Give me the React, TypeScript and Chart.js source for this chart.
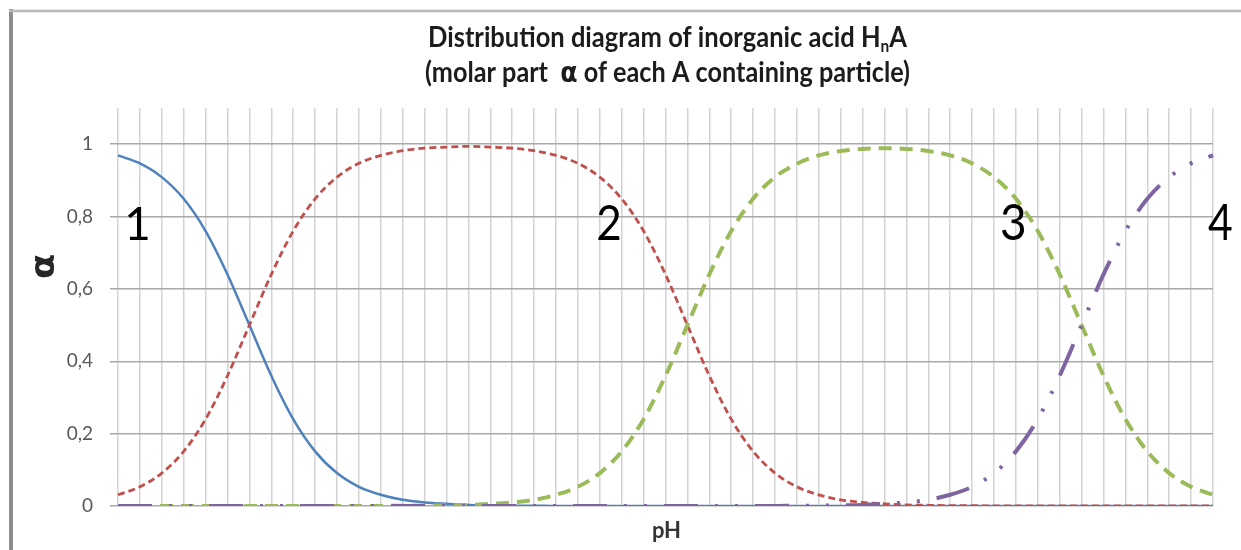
import React, { useEffect, useRef } from "react";
import { Chart, registerables } from "chart.js";

Chart.register(...registerables);

// pH categories (0.25 step), no tick labels shown on the reference
const pHLabels = [
  "0", "0.25", "0.5", "0.75", "1", "1.25", "1.5", "1.75", "2", "2.25",
  "2.5", "2.75", "3", "3.25", "3.5", "3.75", "4", "4.25", "4.5", "4.75",
  "5", "5.25", "5.5", "5.75", "6", "6.25", "6.5", "6.75", "7", "7.25",
  "7.5", "7.75", "8", "8.25", "8.5", "8.75", "9", "9.25", "9.5", "9.75",
  "10", "10.25", "10.5", "10.75", "11", "11.25", "11.5", "11.75", "12", "12.25",
  "12.5",
];

// molar part α of each species
const series1 = [
  0.969, 0.947, 0.909, 0.849, 0.76, 0.64, 0.5, 0.36, 0.24, 0.151,
  0.091, 0.053, 0.031, 0.017, 0.01, 0.006, 0.003, 0.002, 0.001, 0.001,
  0, 0, 0, 0, 0, 0, 0, 0, 0, 0,
  0, 0, 0, 0, 0, 0, 0, 0, 0, 0,
  0, 0, 0, 0, 0, 0, 0, 0, 0, 0,
  0,
];
const series2 = [
  0.031, 0.053, 0.091, 0.151, 0.24, 0.36, 0.5, 0.64, 0.76, 0.849,
  0.909, 0.947, 0.969, 0.982, 0.989, 0.992, 0.994, 0.992, 0.989, 0.982,
  0.969, 0.947, 0.909, 0.849, 0.76, 0.64, 0.5, 0.36, 0.24, 0.151,
  0.091, 0.053, 0.031, 0.017, 0.01, 0.006, 0.003, 0.002, 0.001, 0.001,
  0, 0, 0, 0, 0, 0, 0, 0, 0, 0,
  0,
];
const series3 = [
  0, 0, 0, 0, 0, 0, 0, 0, 0, 0,
  0, 0, 0, 0.001, 0.001, 0.002, 0.003, 0.006, 0.01, 0.017,
  0.031, 0.053, 0.091, 0.151, 0.24, 0.36, 0.5, 0.64, 0.76, 0.849,
  0.909, 0.946, 0.969, 0.981, 0.987, 0.989, 0.987, 0.981, 0.969, 0.947,
  0.909, 0.849, 0.76, 0.64, 0.5, 0.36, 0.24, 0.151, 0.091, 0.053,
  0.031,
];
const series4 = [
  0, 0, 0, 0, 0, 0, 0, 0, 0, 0,
  0, 0, 0, 0, 0, 0, 0, 0, 0, 0,
  0, 0, 0, 0, 0, 0, 0, 0, 0, 0,
  0, 0.001, 0.001, 0.002, 0.003, 0.006, 0.01, 0.017, 0.031, 0.053,
  0.091, 0.151, 0.24, 0.36, 0.5, 0.64, 0.76, 0.849, 0.909, 0.947,
  0.969,
];

const yTickValues = [0, 0.2, 0.4, 0.6, 0.8, 1];

function drawFit(
  ctx: CanvasRenderingContext2D,
  text: string,
  font: string,
  cx: number,
  cy: number,
  w: number,
  h: number,
  rot = 0
) {
  ctx.save();
  ctx.font = font;
  ctx.textAlign = "left";
  ctx.textBaseline = "alphabetic";
  const m = ctx.measureText(text);
  const gw = m.actualBoundingBoxLeft + m.actualBoundingBoxRight;
  const gh = m.actualBoundingBoxAscent + m.actualBoundingBoxDescent;
  ctx.translate(cx, cy);
  if (rot) ctx.rotate(rot);
  ctx.scale(w / gw, h / gh);
  ctx.fillText(text, -gw / 2 + m.actualBoundingBoxLeft, -gh / 2 + m.actualBoundingBoxAscent);
  ctx.restore();
}

type Piece = { t: string; f: string; dy?: number };

function drawLine(
  ctx: CanvasRenderingContext2D,
  pieces: Piece[],
  x0: number,
  x1: number,
  baseline: number
) {
  ctx.save();
  ctx.textAlign = "left";
  ctx.textBaseline = "alphabetic";
  let total = 0;
  const widths = pieces.map((p) => {
    ctx.font = p.f;
    const wd = ctx.measureText(p.t).width;
    total += wd;
    return wd;
  });
  ctx.translate(x0, baseline);
  ctx.scale((x1 - x0) / total, 1);
  let x = 0;
  pieces.forEach((p, i) => {
    ctx.font = p.f;
    ctx.fillText(p.t, x, p.dy || 0);
    x += widths[i];
  });
  ctx.restore();
}

const overlayPlugin = {
  id: "overlay",
  afterDraw(chart: any) {
    const ctx: CanvasRenderingContext2D = chart.ctx;
    ctx.save();
    // frame lines
    ctx.strokeStyle = "#8e8e8e";
    ctx.lineWidth = 4;
    ctx.beginPath();
    ctx.moveTo(11, 9);
    ctx.lineTo(11, 550);
    ctx.stroke();
    ctx.strokeStyle = "#b8b8b8";
    ctx.lineWidth = 2.5;
    ctx.beginPath();
    ctx.moveTo(9, 11);
    ctx.lineTo(1241, 11);
    ctx.stroke();

    // title
    ctx.fillStyle = "#1c1c1c";
    const tf = "bold 28px Lato";
    drawLine(
      ctx,
      [
        { t: "Distribution diagram of inorganic acid H", f: tf },
        { t: "n", f: "bold 17px Lato", dy: 5 },
        { t: "A", f: tf },
      ],
      428,
      907,
      47
    );
    drawLine(
      ctx,
      [
        { t: "(molar part  ", f: tf },
        { t: "α", f: "bold 28px 'DejaVu Sans'" },
        { t: " of each A containing particle)", f: tf },
      ],
      425,
      910,
      82
    );

    // big curve numbers
    ctx.fillStyle = "#000000";
    const df = "48px Lato";
    drawFit(ctx, "1", df, 137.5, 223, 21, 34);
    drawFit(ctx, "2", df, 609, 222.5, 22, 35);
    drawFit(ctx, "3", df, 1013.5, 222, 23, 36);
    drawFit(ctx, "4", df, 1220, 222, 24, 36);

    // axis titles
    ctx.fillStyle = "#262626";
    drawFit(ctx, "α", "bold 40px 'DejaVu Sans'", 45, 266.5, 23, 20, -Math.PI / 2);
    ctx.fillStyle = "#333333";
    ctx.font = "bold 22px Lato";
    ctx.textAlign = "center";
    ctx.textBaseline = "alphabetic";
    ctx.fillText("pH", 666.5, 538);
    ctx.restore();
  },
};

export default function App() {
  const ref = useRef<HTMLCanvasElement>(null);

  useEffect(() => {
    if (!ref.current) return;
    const chart = new Chart(ref.current, {
      type: "line",
      data: {
        labels: pHLabels,
        datasets: [
          {
            label: "1",
            data: series1,
            borderColor: "#4f81bd",
            borderWidth: 2.5,
            pointRadius: 0,
            fill: false,
            cubicInterpolationMode: "monotone",
            order: 4,
          },
          {
            label: "2",
            data: series2,
            borderColor: "#c0504d",
            borderWidth: 2.8,
            borderDash: [7, 4],
            pointRadius: 0,
            fill: false,
            cubicInterpolationMode: "monotone",
            order: 3,
          },
          {
            label: "3",
            data: series3,
            borderColor: "#9bbb59",
            borderWidth: 4,
            borderDash: [13, 8],
            pointRadius: 0,
            fill: false,
            cubicInterpolationMode: "monotone",
            order: 2,
          },
          {
            label: "4",
            data: series4,
            borderColor: "#7f64a2",
            borderWidth: 4,
            borderDash: [34, 17, 3, 17, 3, 17],
            pointRadius: 0,
            fill: false,
            cubicInterpolationMode: "monotone",
            order: 1,
          },
        ],
      },
      options: {
        responsive: false,
        devicePixelRatio: 1,
        animation: false,
        events: [],
        layout: { padding: { top: 108, right: 28, bottom: 44, left: 0 } },
        plugins: {
          legend: { display: false },
          tooltip: { enabled: false },
          title: { display: false },
        },
        scales: {
          x: {
            type: "category",
            offset: false,
            grid: { color: "#d3d3d3", lineWidth: 1.5, drawTicks: false },
            border: { display: false },
            ticks: { display: false },
            afterFit: (s: any) => {
              s.height = 0;
            },
          },
          y: {
            min: 0,
            max: 1.1,
            afterBuildTicks: (s: any) => {
              s.ticks = yTickValues.map((v) => ({ value: v }));
            },
            ticks: {
              padding: 17,
              color: "#595959",
              font: { family: "Lato", size: 19 },
              callback: (v: any) => {
                const n = Math.round(Number(v) * 10) / 10;
                return n === 0 || n === 1 ? String(n) : n.toFixed(1).replace(".", ",");
              },
            },
            grid: { color: "#a9a9a9", lineWidth: 1.5, tickLength: 8 },
            border: { display: false },
            afterFit: (s: any) => {
              s.width = 118;
            },
          },
        },
      } as any,
      plugins: [overlayPlugin],
    });
    return () => chart.destroy();
  }, []);

  return (
    <div style={{ position: "fixed", left: 0, top: 0, width: 1241, height: 550, background: "#ffffff" }}>
      <canvas ref={ref} width={1241} height={550} style={{ display: "block" }} />
    </div>
  );
}
